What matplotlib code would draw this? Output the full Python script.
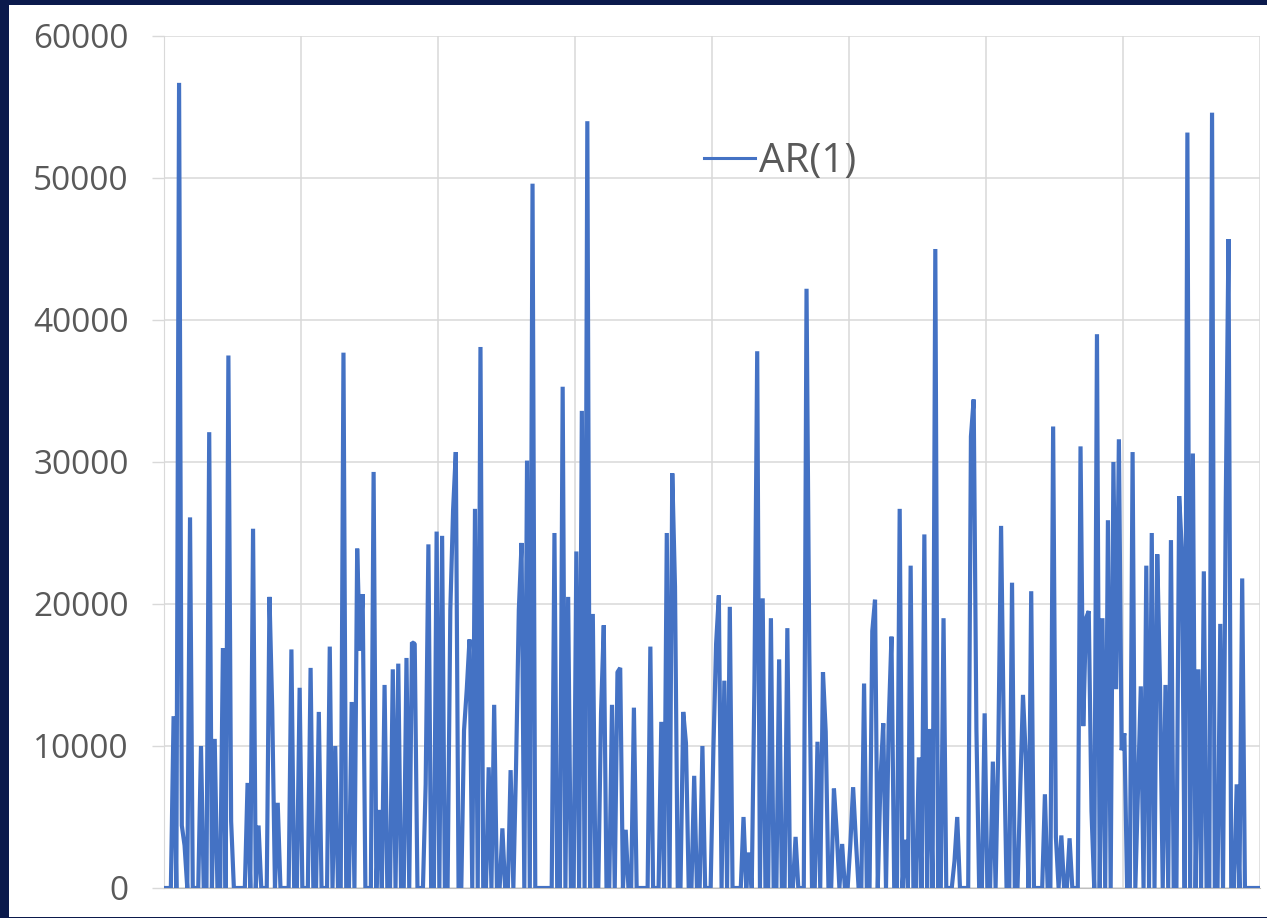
import numpy as np
import matplotlib
matplotlib.use('Agg')
import matplotlib.pyplot as plt
from matplotlib.patches import Rectangle

# AR(1) series: observation index and value of every non-zero point
n_obs = 400
obs_idx = [3, 5, 6, 7, 9, 13, 16, 18, 21, 23, 24, 30, 32, 34, 38, 39, 41, 46, 49,
           53, 56, 60, 62, 65, 68, 70, 71, 72, 76, 78, 80, 83, 85, 88, 90, 91, 95,
           96, 99, 101, 104, 105, 106, 109, 110, 111, 113, 115, 118, 120, 123, 126,
           128, 129, 130, 132, 134, 142, 145, 147, 150, 152, 154, 156, 159, 160,
           163, 165, 166, 168, 171, 177, 181, 183, 185, 186, 189, 190, 193, 196,
           200, 201, 202, 204, 206, 211, 213, 215, 216, 218, 221, 224, 227, 230,
           234, 235, 238, 240, 241, 244, 245, 247, 250, 251, 252, 255, 258, 259,
           261, 262, 264, 265, 268, 270, 272, 275, 277, 279, 281, 284, 288, 289,
           294, 295, 296, 299, 302, 304, 305, 306, 309, 312, 313, 314, 316, 321,
           324, 325, 327, 330, 334, 335, 336, 337, 338, 340, 342, 344, 346, 347,
           348, 349, 350, 353, 355, 356, 358, 360, 362, 363, 365, 367, 370, 371,
           373, 375, 377, 379, 382, 385, 387, 388, 391, 393]
obs_val = [12100, 56700, 4400, 3000, 26100, 10000, 32100, 10500, 16900, 37500, 4700,
           7400, 25300, 4400, 20500, 12600, 6000, 16800, 14100, 15500, 12400, 17000,
           10000, 37700, 13100, 23900, 16700, 20700, 29300, 5500, 14300, 15400,
           15800, 16200, 17300, 17200, 7300, 24200, 25100, 24800, 19600, 26600,
           30700, 11100, 14000, 17500, 26700, 38100, 8500, 12900, 4200, 8300, 8700,
           19600, 24300, 30100, 49600, 25000, 35300, 20500, 23700, 33600, 54000,
           19300, 12300, 18500, 12900, 15200, 15500, 4100, 12700, 17000, 11700,
           25000, 29200, 21200, 12400, 10200, 7900, 10000, 9700, 17200, 20600,
           14600, 19800, 5000, 2500, 14600, 37800, 20400, 19000, 16100, 18300,
           3600, 42200, 16900, 10300, 15200, 11000, 7000, 4000, 3100, 3100, 7100,
           3400, 14400, 18100, 20300, 7700, 11600, 11700, 17700, 26700, 3400,
           22700, 9200, 24900, 11200, 45000, 19000, 1900, 5000, 31800, 34400,
           11200, 12300, 8900, 10000, 25500, 10800, 21500, 7000, 13600, 9300,
           20900, 6600, 32500, 3600, 3700, 3500, 31100, 11400, 19000, 19500, 5400,
           39000, 19000, 25900, 30000, 14000, 31600, 9700, 10900, 30700, 7000,
           14200, 22700, 25000, 23500, 14400, 14300, 24500, 27600, 23700, 53200,
           30600, 15400, 22300, 54600, 18600, 27100, 45700, 7300, 21800]

y_ticks = [0, 10000, 20000, 30000, 40000, 50000, 60000]

series = np.zeros(n_obs)
series[obs_idx] = obs_val

navy = '#0b1a4c'
line_color = '#4472c4'
grid_color = '#d9d9d9'
label_color = '#595959'

fig = plt.figure(figsize=(12.67, 9.18), dpi=100, facecolor=navy)
# white chart card inside the dark frame
fig.patches.append(Rectangle((9 / 1267, 1 / 918), 1 - 9 / 1267, 1 - 6 / 918,
                             transform=fig.transFigure, facecolor='white',
                             edgecolor='none', zorder=-10))

ax = fig.add_axes([164 / 1267, 1 - 888 / 918, (1260 - 164) / 1267, (888 - 36) / 918])
ax.set_zorder(1)
ax.set_facecolor('white')
ax.plot(np.arange(n_obs), series, color=line_color, linewidth=3.0,
        solid_joinstyle='bevel', label='AR(1)', zorder=3)

ax.set_xlim(-0.5, n_obs - 0.5)
ax.set_ylim(0, 60000)
ax.set_yticks(y_ticks)
ax.set_yticklabels([str(v) for v in y_ticks])
ax.set_xticks(np.arange(-0.5, n_obs, 50))
ax.tick_params(axis='x', length=0, labelbottom=False)
ax.tick_params(axis='y', length=8.5, width=1, color=grid_color, pad=17,
               labelsize=24, labelcolor=label_color)
for lbl in ax.get_yticklabels():
    lbl.set_family('Open Sans')

ax.grid(True, color=grid_color, linewidth=1.1, zorder=0)
for side in ['top', 'right']:
    ax.spines[side].set_visible(False)
ax.spines['left'].set_color(grid_color)
ax.spines['bottom'].set_color('#bfbfbf')

leg = ax.legend(loc='center left', bbox_to_anchor=(0.493, 0.852), frameon=False,
                handlelength=1.25, handletextpad=0.1, borderpad=0, borderaxespad=0,
                prop={'family': 'Open Sans', 'size': 29})
for t in leg.get_texts():
    t.set_color(label_color)
for h in leg.get_lines():
    h.set_linewidth(2.2)

fig.savefig('out.png', dpi=100, facecolor=navy)
